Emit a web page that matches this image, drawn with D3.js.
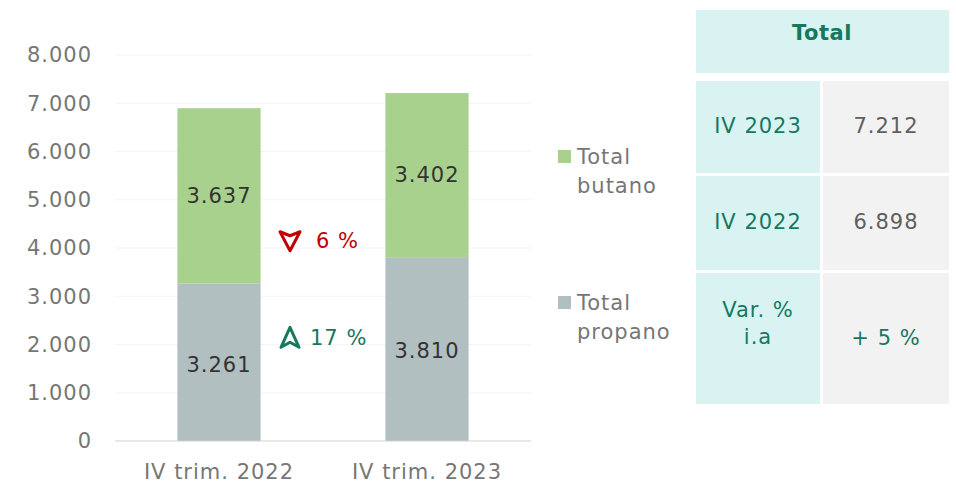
<!DOCTYPE html>
<html>
<head>
<meta charset="utf-8">
<script src="https://cdn.jsdelivr.net/npm/d3@7"></script>
<style>
  body { margin: 0; background: #fff; }
  svg { font-family: "DejaVu Sans", sans-serif; letter-spacing: 1px; }
</style>
</head>
<body>
<svg id="chart" width="956" height="488"></svg>
<script>
// data
var categories = ["IV trim. 2022", "IV trim. 2023"];
var propano = [3261, 3810];
var butano = [3637, 3402];
var yTicks = [0, 1000, 2000, 3000, 4000, 5000, 6000, 7000, 8000];
var variations = [
  {serie: "butano", label: "6 %", dir: "down", value: 4150},
  {serie: "propano", label: "17 %", dir: "up", value: 2150}
];
var tableRows = [
  {label: ["IV 2023"], value: "7.212"},
  {label: ["IV 2022"], value: "6.898"},
  {label: ["Var. %", "i.a"], value: "+ 5 %"}
];

var fmt = d => d3.format(",")(d).replace(/,/g, ".");

var svg = d3.select("#chart");
var colorButano = "#a9d18e", colorPropano = "#b1bfc1";
var green = "#16785f", red = "#c00000";
var fs = 21;

var x = d3.scaleBand()
  .domain(categories)
  .range([115, 531])
  .paddingInner(0.6)
  .paddingOuter(0.3);

var y = d3.scaleLinear()
  .domain([0, 8000])
  .range([441, 55]);

// gridlines
svg.append("g")
  .selectAll("line")
  .data(yTicks.slice(1))
  .enter()
  .append("line")
  .attr("x1", 115).attr("x2", 531)
  .attr("y1", d => y(d)).attr("y2", d => y(d))
  .attr("stroke", "#f4f4f4")
  .attr("stroke-width", 1);

// y axis labels
svg.append("g")
  .selectAll("text")
  .data(yTicks)
  .enter()
  .append("text")
  .attr("x", 92)
  .attr("y", d => y(d))
  .attr("dy", "0.35em")
  .attr("text-anchor", "end")
  .attr("font-size", fs)
  .attr("fill", "#767676")
  .text(fmt);

// bars
var stacks = categories.map((c, i) => ({cat: c, p: propano[i], b: butano[i]}));

svg.append("g").selectAll("rect")
  .data(stacks).enter().append("rect")
  .attr("x", d => x(d.cat))
  .attr("width", x.bandwidth())
  .attr("y", d => y(d.p))
  .attr("height", d => y(0) - y(d.p))
  .attr("fill", colorPropano);

svg.append("g").selectAll("rect")
  .data(stacks).enter().append("rect")
  .attr("x", d => x(d.cat))
  .attr("width", x.bandwidth())
  .attr("y", d => y(d.p + d.b))
  .attr("height", d => y(d.p) - y(d.p + d.b))
  .attr("fill", colorButano);

// value labels
svg.append("g").selectAll("text")
  .data(stacks).enter().append("text")
  .attr("x", d => x(d.cat) + x.bandwidth() / 2)
  .attr("y", d => y(d.p / 2) + 2)
  .attr("dy", "0.35em")
  .attr("text-anchor", "middle")
  .attr("font-size", fs)
  .attr("fill", "#333")
  .text(d => fmt(d.p));

svg.append("g").selectAll("text")
  .data(stacks).enter().append("text")
  .attr("x", d => x(d.cat) + x.bandwidth() / 2)
  .attr("y", d => y(d.p + d.b / 2))
  .attr("dy", "0.35em")
  .attr("text-anchor", "middle")
  .attr("font-size", fs)
  .attr("fill", "#333")
  .text(d => fmt(d.b));

// x axis
svg.append("line")
  .attr("x1", 115).attr("x2", 531)
  .attr("y1", y(0)).attr("y2", y(0))
  .attr("stroke", "#d0d0d0");

svg.append("g").selectAll("text")
  .data(categories).enter().append("text")
  .attr("x", d => x(d) + x.bandwidth() / 2)
  .attr("y", 472)
  .attr("dy", "0.35em")
  .attr("text-anchor", "middle")
  .attr("font-size", fs)
  .attr("fill", "#767676")
  .text(d => d);

// variation arrows
var arrowX = 290;
variations.forEach(function(v) {
  var cy = y(v.value);
  var col = v.dir === "up" ? green : red;
  var g = svg.append("g").attr("transform", `translate(${arrowX}, ${cy})`);
  var pts = v.dir === "up"
    ? "0,-10 9,10 0,5 -9,10"
    : "-10,-9 0,-5 10,-9 0,10";
  g.append("polygon")
    .attr("points", pts)
    .attr("fill", "none")
    .attr("stroke", col)
    .attr("stroke-width", 3)
    .attr("stroke-linejoin", "round");
  g.append("text")
    .attr("x", v.dir === "up" ? 20 : 26)
    .attr("y", 0)
    .attr("dy", "0.35em")
    .attr("font-size", fs)
    .attr("fill", col)
    .text(v.label);
});

// legend
var legend = [
  {name: ["Total", "butano"], color: colorButano, y: 157},
  {name: ["Total", "propano"], color: colorPropano, y: 303}
];
legend.forEach(function(l) {
  svg.append("rect")
    .attr("x", 558).attr("y", l.y - 7)
    .attr("width", 13).attr("height", 13)
    .attr("fill", l.color);
  l.name.forEach(function(t, i) {
    svg.append("text")
      .attr("x", 577)
      .attr("y", l.y + i * 29)
      .attr("dy", "0.35em")
      .attr("font-size", fs)
      .attr("fill", "#767676")
      .text(t);
  });
});

// table
var lightCyan = "#d9f3f2", lightGrey = "#f2f2f2";
svg.append("rect")
  .attr("x", 696).attr("y", 10)
  .attr("width", 253).attr("height", 63)
  .attr("fill", lightCyan);
svg.append("text")
  .attr("x", 822).attr("y", 33)
  .attr("dy", "0.35em")
  .attr("text-anchor", "middle")
  .attr("font-size", 21)
  .attr("font-weight", "bold")
  .attr("letter-spacing", 0.5)
  .attr("fill", green)
  .text("Total");

var rowTops = [81, 176, 273];
var rowHeights = [92, 94, 131];
tableRows.forEach(function(r, i) {
  var top = rowTops[i], h = rowHeights[i];
  svg.append("rect")
    .attr("x", 696).attr("y", top)
    .attr("width", 124).attr("height", h)
    .attr("fill", lightCyan);
  svg.append("rect")
    .attr("x", 823).attr("y", top)
    .attr("width", 126).attr("height", h)
    .attr("fill", lightGrey);
  var cy = i < 2 ? top + h / 2 - 1 : 310;
  r.label.forEach(function(t, j) {
    svg.append("text")
      .attr("x", 758)
      .attr("y", cy + j * 27)
      .attr("dy", "0.35em")
      .attr("text-anchor", "middle")
      .attr("font-size", fs)
      .attr("fill", green)
      .text(t);
  });
  svg.append("text")
    .attr("x", 886)
    .attr("y", i < 2 ? cy : 338)
    .attr("dy", "0.35em")
    .attr("text-anchor", "middle")
    .attr("font-size", fs)
    .attr("fill", i < 2 ? "#5f5f5f" : green)
    .text(r.value);
});
</script>
</body>
</html>
